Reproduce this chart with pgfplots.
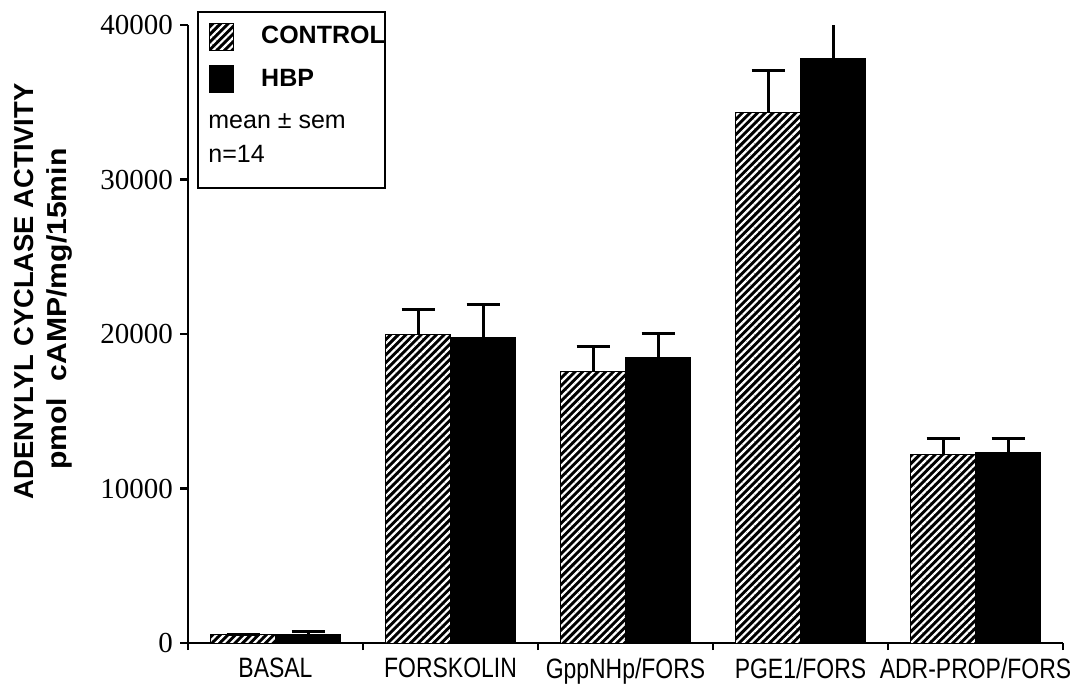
\documentclass[border=0pt]{standalone}
\usepackage{fontspec}
\setmainfont{Liberation Sans}
\newfontfamily\narrowsans[FakeStretch=0.82]{Liberation Sans}
\newfontfamily\widesans[FakeStretch=1.1]{Liberation Sans}
\newfontfamily\serifdigits{Liberation Serif}
\usepackage{pgfplots}
\usepackage{pgfplotstable}
\pgfplotsset{compat=1.18}
\usetikzlibrary{patterns.meta}

% adenylyl cyclase activity, mean and sem (n=14)
\pgfplotstableread{
x ctrl  ctrlerr hbp   hbperr
0 580   0       580   150
1 19970 1620    19770 2140
2 17570 1620    18480 1560
3 34360 2720    37860 2400
4 12190 1040    12320 910
}\adcdata

\tikzset{
  hatchbar/.style={fill=black, draw=black,
    postaction={pattern={Lines[angle=45,distance=2.7pt,line width=1.1pt]}, pattern color=white}},
  solidbar/.style={fill=black, draw=black},
}

\begin{document}
\begin{tikzpicture}
\begin{axis}[
  name=ax,
  scale only axis,
  width=437.5pt, height=309pt,
  xmin=-0.5, xmax=4.5,
  ymin=0, ymax=40000,
  axis x line*=bottom, axis y line*=left,
  axis line style={-, line width=1.2pt},
  xtick={0,...,4},
  xticklabels={BASAL, FORSKOLIN, GppNHp/FORS, PGE1/FORS, ADR-PROP/FORS},
  xticklabel style={font=\narrowsans\fontsize{14}{16}\selectfont},
  major x tick style={draw=none},
  minor xtick={-0.5,0.5,1.5,2.5,3.5,4.5},
  minor tick length=3.5pt,
  ytick={0,10000,20000,30000,40000},
  scaled y ticks=false,
  yticklabel style={/pgf/number format/1000 sep={}, font=\serifdigits\fontsize{14.5}{16}\selectfont},
  /pgf/number format/assume math mode=true,
  tick align=outside,
  major tick length=4pt,
  tick style={black, line width=1.2pt},
  ybar=0pt, bar width=32.5pt,
  legend image code/.code={\draw[#1] (0pt,-6.75pt) rectangle (12pt,6.75pt);},
  legend cell align=left,
  legend style={at={(0,1)}, anchor=north west, xshift=10.5pt, yshift=1.5pt,
    draw=none, fill=none, inner sep=0pt, row sep=7pt, column sep=11.5pt,
    font=\bfseries\fontsize{12.5}{14}\selectfont},
  error bars/y dir=plus,
  error bars/y explicit,
  error bars/error bar style={line width=1.5pt, black},
  error bars/error mark options={rotate=90, line width=1.5pt, mark size=8.25pt, black},
]
\addplot[hatchbar] table[x=x, y=ctrl, y error=ctrlerr] {\adcdata};
\addlegendentry{CONTROL}
\addplot[solidbar] table[x=x, y=hbp, y error=hbperr] {\adcdata};
\addlegendentry{HBP}
\end{axis}

% legend frame and statistics note
\draw[line width=1pt] ([xshift=5pt,yshift=6.5pt]ax.north west) rectangle ++(93.5pt,-88pt);
\node[anchor=west, inner sep=0pt, font=\fontsize{12.5}{15}\selectfont]
  at ([xshift=10pt,yshift=-48pt]ax.north west) {mean ± sem};
\node[anchor=west, inner sep=0pt, font=\fontsize{12.5}{15}\selectfont]
  at ([xshift=10pt,yshift=-64.5pt]ax.north west) {n=14};

% y axis title, two lines
\node[rotate=90, anchor=base east, inner sep=0pt, font=\bfseries\fontsize{13.7}{15}\selectfont]
  at ([xshift=-77pt,yshift=-29pt]ax.north west) {ADENYLYL CYCLASE ACTIVITY};
\node[rotate=90, anchor=base east, inner sep=0pt, font=\widesans\bfseries\fontsize{13.7}{15}\selectfont]
  at ([xshift=-60.5pt,yshift=-61.5pt]ax.north west) {pmol\ \ cAMP/mg/15min};

\pgfresetboundingbox
\path ([xshift=-94pt,yshift=-24pt]ax.south west) rectangle ([xshift=5.5pt,yshift=12.5pt]ax.north east);
\end{tikzpicture}
\end{document}
